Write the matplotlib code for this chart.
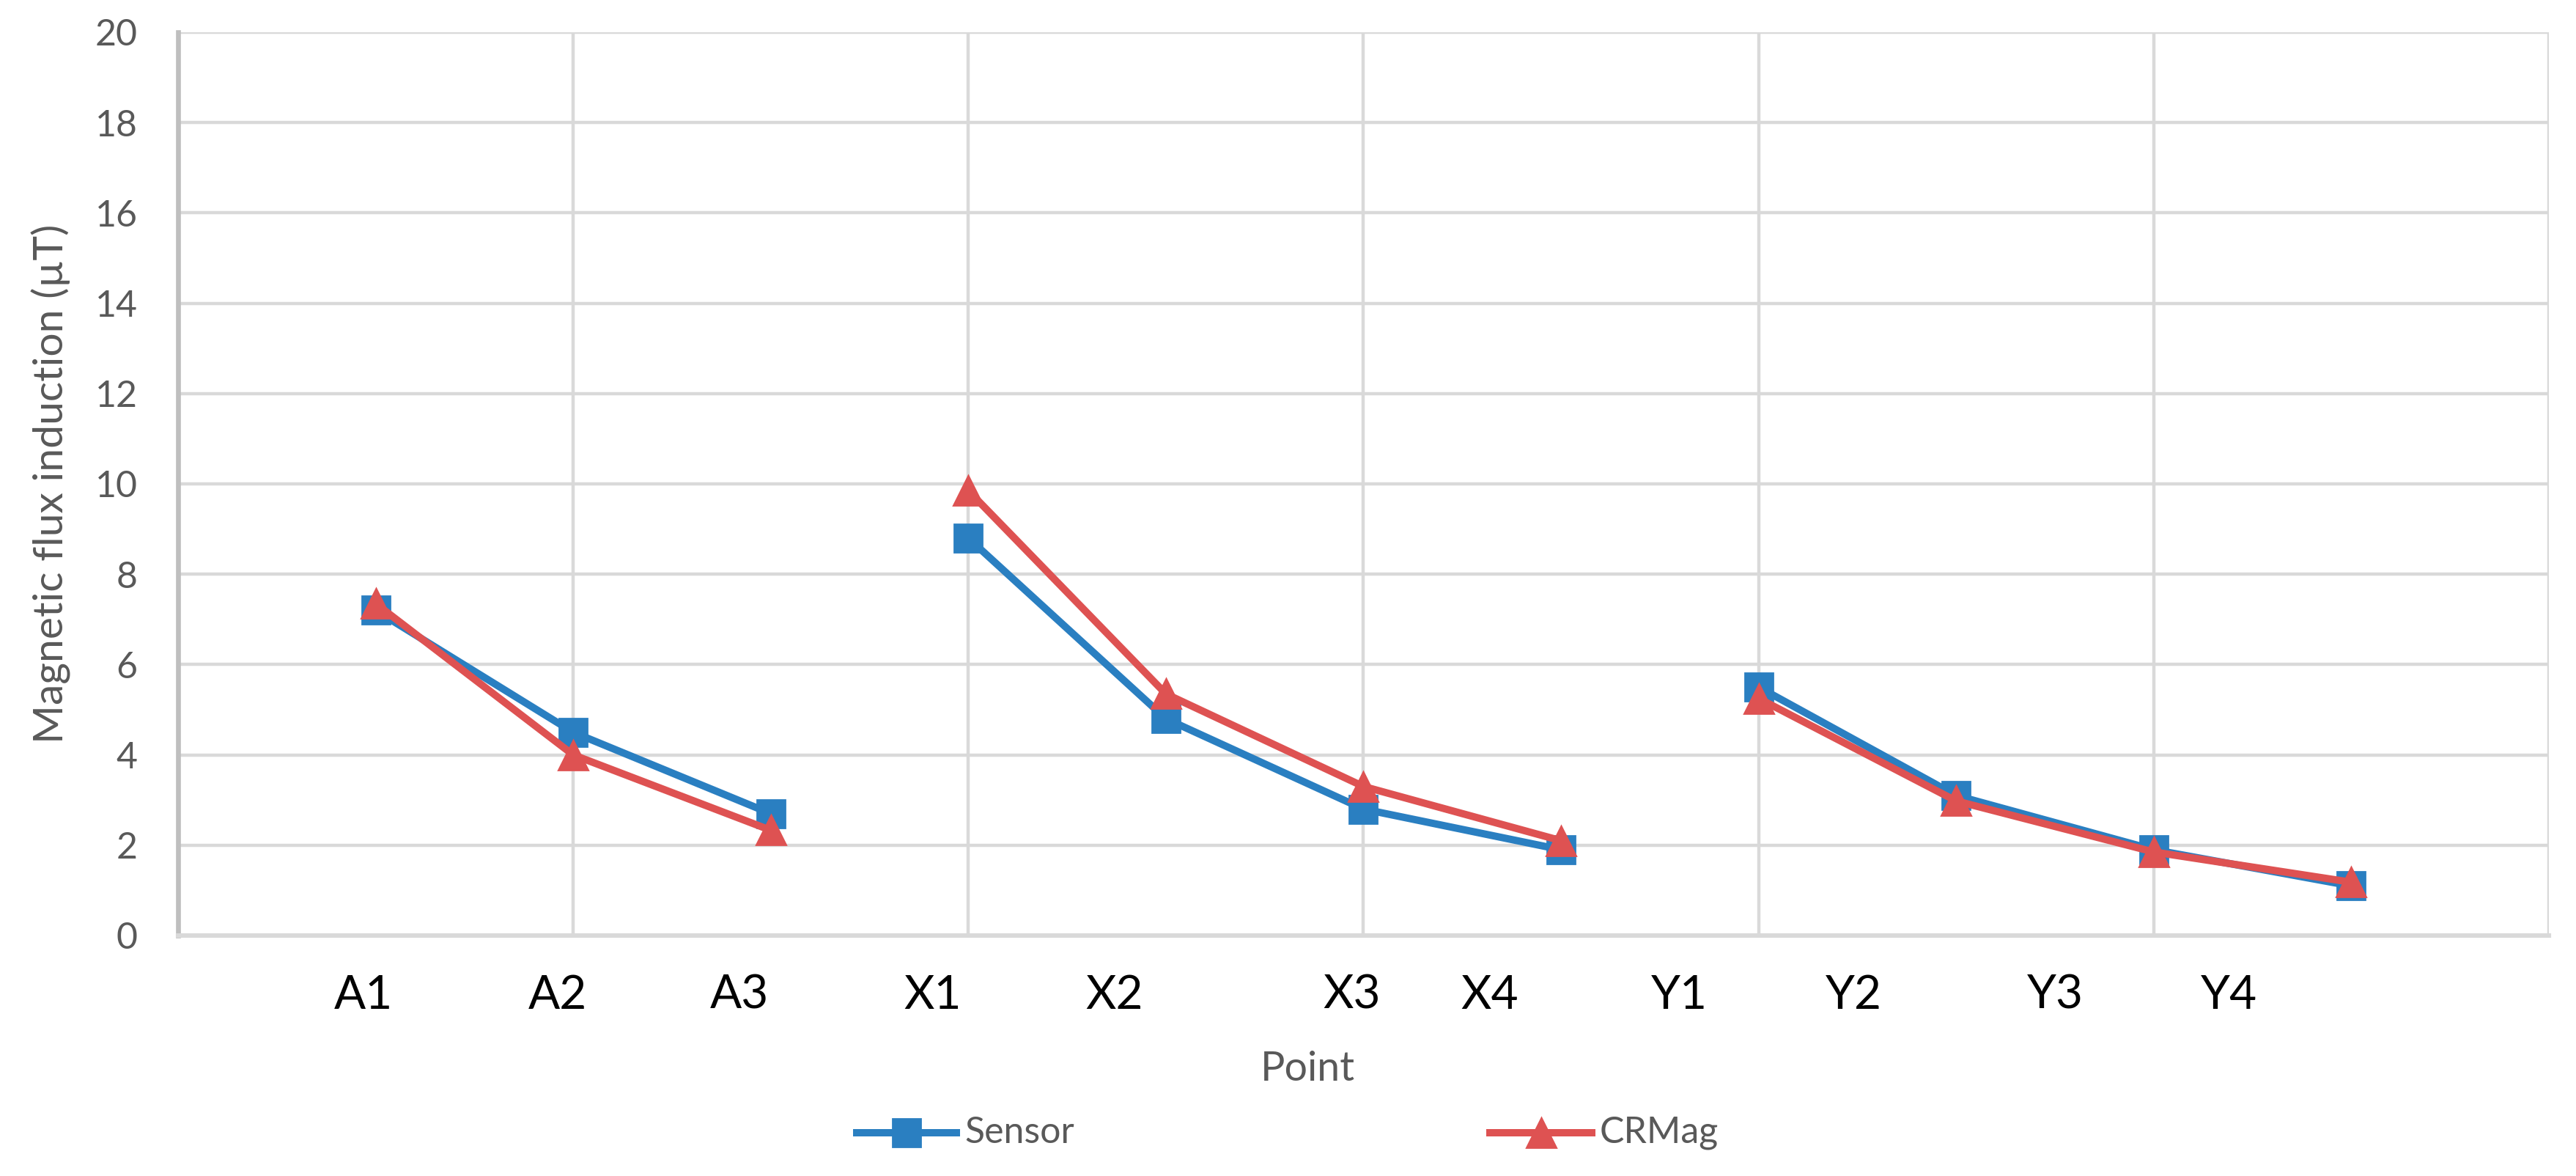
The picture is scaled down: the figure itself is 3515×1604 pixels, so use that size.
import matplotlib
matplotlib.use("Agg")
import matplotlib.pyplot as plt
from matplotlib.lines import Line2D

# ---- data ----
CATEGORIES = ["A1", "A2", "A3", "X1", "X2", "X3", "X4", "Y1", "Y2", "Y3", "Y4"]
POINT_X = [0.5, 1.0, 1.5, 2.0, 2.5, 3.0, 3.5, 4.0, 4.5, 5.0, 5.5]
LABEL_X = [0.47, 0.96, 1.42, 1.91, 2.37, 2.97, 3.32, 3.8, 4.24, 4.75, 5.19]
SENSOR = [7.2, 4.5, 2.7, 8.8, 4.8, 2.8, 1.9, 5.5, 3.1, 1.9, 1.1]
CRMAG = [7.35, 4.0, 2.33, 9.85, 5.35, 3.3, 2.1, 5.25, 2.98, 1.85, 1.18]
GROUPS = [(0, 3), (3, 7), (7, 11)]   # lines are broken between A / X / Y

# ---- style ----
BLUE = "#2A7FC1"
RED = "#DE5252"
GRID = "#D9D9D9"
TEXT_GRAY = "#595959"
plt.rcParams["font.family"] = ["Lato", "DejaVu Sans"]

W, H, DPI = 3516, 1604, 200
fig = plt.figure(figsize=(W / DPI, H / DPI), dpi=DPI)
ax = fig.add_axes([243 / W, 1 - 1276 / H, (3478 - 243) / W, (1276 - 44) / H])

for lo, hi in GROUPS:
    ax.plot(POINT_X[lo:hi], SENSOR[lo:hi], color=BLUE, lw=3.6, marker="s",
            ms=13.5, zorder=3)
    ax.plot(POINT_X[lo:hi], CRMAG[lo:hi], color=RED, lw=3.6, marker="^",
            ms=14.5, zorder=4)

ax.set_xlim(0, 6)
ax.set_ylim(0, 20)
ax.set_yticks(range(0, 21, 2))
ax.set_xticks(range(0, 7), minor=True)
ax.set_xticks(LABEL_X, CATEGORIES)
ax.tick_params(axis="x", which="both", length=0, pad=19, labelsize=23,
               labelcolor="black")
ax.tick_params(axis="y", length=0, pad=20, labelsize=18, labelcolor=TEXT_GRAY)

ax.grid(axis="y", color=GRID, lw=1.6, zorder=0)
ax.grid(axis="x", which="minor", color=GRID, lw=1.6, zorder=0)
ax.grid(axis="x", which="major", visible=False)
ax.set_axisbelow(True)

for side in ("top", "right"):
    ax.spines[side].set_visible(False)
ax.spines["left"].set_color("#BFBFBF")
ax.spines["left"].set_linewidth(2.4)
ax.spines["bottom"].set_color(GRID)
ax.spines["bottom"].set_linewidth(2.2)

fig.text(70 / W, 1 - 660 / H, "Magnetic flux induction (µT)", rotation=90,
         ha="center", va="center", fontsize=20.5, color=TEXT_GRAY)
fig.text(1784 / W, 1 - 1458 / H, "Point", ha="center", va="center",
         fontsize=20, color=TEXT_GRAY)

# legend, drawn by hand below the axis title
leg_y = 1 - 1545 / H
for x0, x1, color, marker, ms, label in [
    (1169, 1305, BLUE, "s", 13.5, "Sensor"),
    (2033, 2172, RED, "^", 14.5, "CRMag"),
]:
    fig.add_artist(Line2D([x0 / W, x1 / W], [leg_y, leg_y], color=color,
                          lw=3.6, transform=fig.transFigure))
    fig.add_artist(Line2D([(x0 + x1) / 2 / W], [leg_y], color=color,
                          marker=marker, ms=ms, lw=0, transform=fig.transFigure))
    fig.text((x1 + 11) / W, leg_y, label, ha="left", va="center",
             fontsize=18, color=TEXT_GRAY)

fig.savefig("out.png", dpi=DPI, facecolor="white")
